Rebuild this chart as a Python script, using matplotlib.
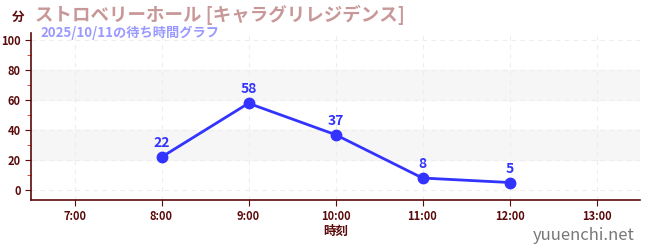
import matplotlib.pyplot as plt

plt.rcParams['font.family'] = ['Noto Sans CJK JP', 'DejaVu Sans']

hours = [8, 9, 10, 11, 12]
waits = [22, 58, 37, 8, 5]
tick_hours = [7, 8, 9, 10, 11, 12, 13]
tick_labels = ["7:00", "8:00", "9:00", "10:00", "11:00", "12:00", "13:00"]

dark = "#5a0a0a"
blue = "#3333ff"

fig = plt.figure(figsize=(6.5, 2.5), dpi=100)
ax = fig.add_axes([31 / 650, 50 / 250, 609 / 650, 167 / 250])

ax.set_xlim(6.5, 13.5)
ax.set_ylim(-6.7, 105)

# 背景の帯
for lo, hi in [(20, 40), (60, 80)]:
    ax.axhspan(lo, hi, color="#f6f6f6", zorder=0)

ax.set_xticks(tick_hours)
ax.set_xticklabels(tick_labels)
ax.set_yticks([0, 20, 40, 60, 80, 100])
ax.set_yticks([10, 30, 50, 70, 90], minor=True)
ax.grid(True, which="major", linestyle=(0, (4, 4)), color="#ededed", linewidth=0.8)

ax.plot(hours, waits, color=blue, linewidth=2, marker="o", markersize=7.5, zorder=3)
for h, w in zip(hours, waits):
    ax.annotate(str(w), (h, w), xytext=(0, 5), textcoords="offset points",
                ha="center", va="bottom", color=blue, fontsize=10,
                fontweight="bold", family="Noto Sans CJK JP")

for side in ["top", "right"]:
    ax.spines[side].set_visible(False)
for side in ["left", "bottom"]:
    ax.spines[side].set_color(dark)
    ax.spines[side].set_linewidth(1.2)

ax.tick_params(axis="both", which="major", colors=dark, labelsize=8, length=4)
ax.tick_params(axis="y", which="minor", colors="#dd2222", length=3)
for lbl in ax.get_xticklabels() + ax.get_yticklabels():
    lbl.set_fontweight("bold")
    lbl.set_color(dark)

ax.set_xlabel("時刻", color=dark, fontsize=9, fontweight="bold", labelpad=1)

fig.text(12 / 650, 1 - 17 / 250, "分", color=dark, fontsize=9, fontweight="bold", va="center")
fig.text(35 / 650, 1 - 15 / 250, "ストロベリーホール [キャラグリレジデンス]",
         color="#c89898", fontsize=13.3, fontweight="bold", va="center")
fig.text(40 / 650, 1 - 33 / 250, "2025/10/11の待ち時間グラフ",
         color="#9999ff", fontsize=9.5, fontweight="bold", va="center")
fig.text(635 / 650, 1 - 235 / 250, "yuuenchi.net", color="#777777",
         fontsize=12, ha="right", va="center")

fig.savefig("out.png", dpi=100)
